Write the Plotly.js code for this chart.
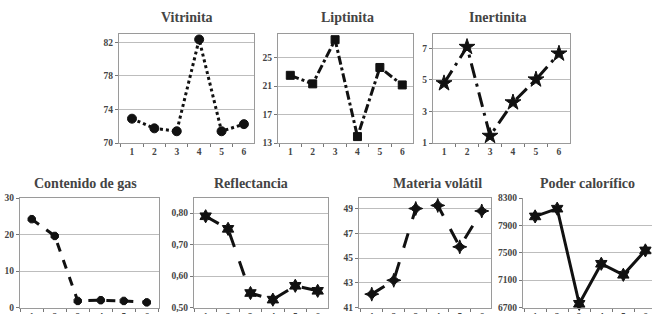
<!DOCTYPE html>
<html><head><meta charset="utf-8">
<script src="https://cdn.plot.ly/plotly-3.0.1.min.js"></script>
</head><body style="margin:0"><div id="c" style="width:652px;height:314px"></div>
<script>
const categories = [1, 2, 3, 4, 5, 6];
const titles = ["Vitrinita", "Liptinita", "Inertinita", "Contenido de gas", "Reflectancia", "Materia volátil", "Poder calorífico"];
const vitrinita = [72.9, 71.75, 71.4, 82.35, 71.4, 72.25];
const liptinita = [22.5, 21.3, 27.5, 13.9, 23.6, 21.15];
const inertinita = [4.78, 7.08, 1.45, 3.57, 5.02, 6.66];
const contenidoGas = [24.2, 19.6, 1.8, 2.0, 1.8, 1.4];
const reflectancia = [0.79, 0.75, 0.546, 0.525, 0.569, 0.553];
const materiaVolatil = [42.08, 43.2, 49.0, 49.25, 45.9, 48.8];
const poderCalorifico = [8031, 8144, 6754, 7339, 7178, 7534];
const yTicks = [
  [70, 74, 78, 82],
  [13, 17, 21, 25],
  [1, 3, 5, 7],
  [0, 10, 20, 30],
  [0.5, 0.6, 0.7, 0.8],
  [41, 43, 45, 47, 49],
  [6700, 7100, 7500, 7900, 8300]
];
const yTickText = [
  ["70", "74", "78", "82"],
  ["13", "17", "21", "25"],
  ["1", "3", "5", "7"],
  ["0", "10", "20", "30"],
  ["0,50", "0,60", "0,70", "0,80"],
  ["41", "43", "45", "47", "49"],
  ["6700", "7100", "7500", "7900", "8300"]
];
const series = [vitrinita, liptinita, inertinita, contenidoGas, reflectancia, materiaVolatil, poderCalorifico];

// layout / style (not data)
const W = 652, H = 314;
const boxes = [ // [left, right, top, bottom] in px
  [119, 254, 34, 143],
  [278, 413, 34, 143],
  [433, 570, 34, 143],
  [20, 159, 198, 307.5],
  [194, 328, 198, 307.5],
  [359, 491, 198, 307.5],
  [523, 652, 198, 307.5]
];
const xRanges = [[0.42, 6.45], [0.45, 6.48], [0.52, 6.48], [0.49, 6.53], [0.48, 6.46], [0.42, 6.42], [0.45, 6.3]];
const yRanges = [[70, 83], [13, 28.3], [1, 7.9], [0, 30], [0.5, 0.848], [41, 49.85], [6700, 8300]];
const markers = ["circle", "square", "star", "octagon", "hexagram", "star-diamond", "hexagram"];
const markerSizes = [9, 8, 12, 8, 10, 10, 10];
const dashes = ["dot", "dashdot", "longdashdot", "dash", "longdash", "longdash", "solid"];
const titlePos = [[187, 18], [347, 18], [498, 18], [85, 183], [251, 183], [437, 183], [587, 183]];

const data = [];
const layout = {
  width: W, height: H, margin: {l: 0, r: 0, t: 0, b: 0},
  paper_bgcolor: "#fff", plot_bgcolor: "#fff", showlegend: false,
  annotations: []
};
for (let i = 0; i < 7; i++) {
  const sx = i === 0 ? "" : String(i + 1);
  const b = boxes[i];
  data.push({
    x: categories, y: series[i], type: "scatter", mode: "lines+markers",
    xaxis: "x" + sx, yaxis: "y" + sx,
    line: {color: "#111", width: 3, dash: dashes[i]},
    marker: {symbol: markers[i], size: markerSizes[i], color: "#111", line: {color: "#111", width: 1}},
    cliponaxis: false
  });
  layout["xaxis" + sx] = {
    domain: [b[0] / W, b[1] / W], anchor: "y" + sx,
    range: xRanges[i], tickvals: categories, ticktext: categories.map(String),
    ticks: "", showgrid: false, zeroline: false,
    showline: true, mirror: i === 6 ? false : true, linecolor: "#9a9a9a", linewidth: 1,
    tickfont: {family: "Times New Roman", size: 9.5, weight: "bold"},
    minor: {tick0: 0.5, dtick: 1, ticks: "outside", ticklen: 3, tickcolor: "#777", showgrid: false},
    fixedrange: true
  };
  layout["yaxis" + sx] = {
    domain: [1 - b[3] / H, 1 - b[2] / H], anchor: "x" + sx,
    range: yRanges[i], tickvals: yTicks[i], ticktext: yTickText[i],
    ticks: "outside", ticklen: 3, tickcolor: "#777",
    showgrid: true, gridcolor: "#bdbdbd", gridwidth: 1, zeroline: false,
    showline: true, mirror: i === 6 ? false : true, linecolor: "#9a9a9a", linewidth: 1,
    tickfont: {family: "Times New Roman", size: 9.5, weight: "bold"},
    fixedrange: true
  };
  layout.annotations.push({
    text: titles[i], xref: "paper", yref: "paper",
    x: titlePos[i][0] / W, y: 1 - titlePos[i][1] / H,
    xanchor: "center", yanchor: "middle", showarrow: false,
    font: {family: "Times New Roman", size: 14, weight: "bold"}
  });
}
Plotly.newPlot("c", data, layout, {displayModeBar: false});
</script>
</body></html>
